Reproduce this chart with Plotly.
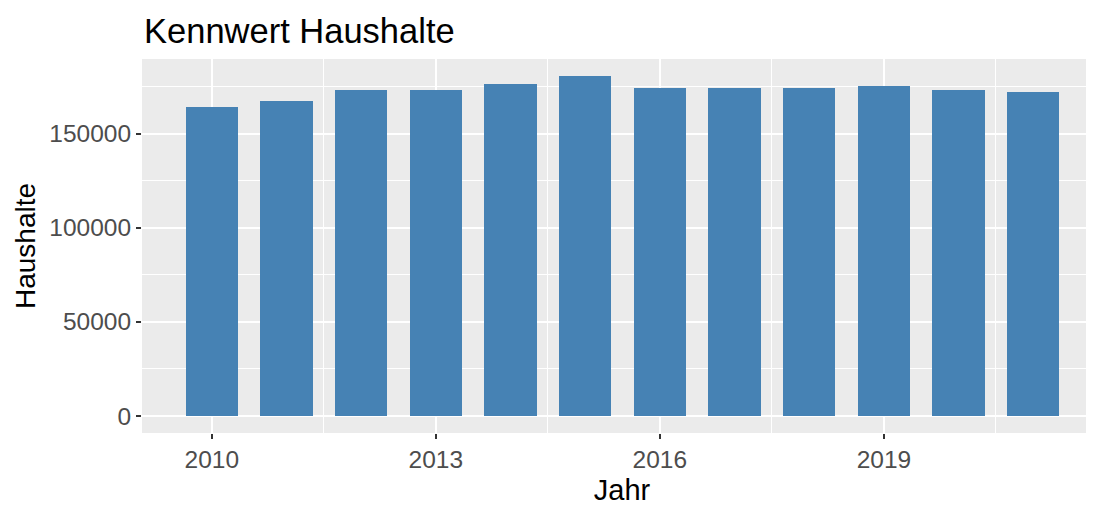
import plotly.graph_objects as go

years = [2010, 2011, 2012, 2013, 2014, 2015, 2016, 2017, 2018, 2019, 2020, 2021]
haushalte = [164000, 167200, 173400, 173400, 176600, 180700, 174300, 174300, 174300, 175600, 173400, 172400]
x_ticks = [2010, 2013, 2016, 2019]
y_ticks = [0, 50000, 100000, 150000]

FONT = "Liberation Sans, Arial, sans-serif"

# the page body adds an 8px offset; the panel runs past the right edge of the window,
# as in the (cropped) reference
W, H = 1094, 498

fig = go.Figure(go.Bar(x=years, y=haushalte, width=0.7,
                       marker=dict(color="#4682B4", line=dict(width=0))))

fig.update_layout(
    width=W, height=H,
    margin=dict(l=134, r=0, t=51, b=73, autoexpand=False),
    paper_bgcolor="white", plot_bgcolor="#EBEBEB",
    font=dict(family=FONT),
    title=dict(text="Kennwert Haushalte", x=136/W, xref="container", xanchor="left",
               y=1 - 23/H, yref="container", yanchor="middle",
               font=dict(size=34.5, color="black", family=FONT)),
    showlegend=False,
    bargap=0,
)
fig.update_xaxes(
    automargin=False,
    range=[2009.066, 2021.92], tickvals=x_ticks, ticktext=[str(v) for v in x_ticks],
    showgrid=True, gridcolor="white", gridwidth=2, zeroline=False,
    ticks="outside", ticklen=5, tickwidth=1.5, tickcolor="#333333",
    tickfont=dict(size=24.5, color="#4D4D4D", family=FONT),
    minor=dict(tick0=2011.5, dtick=3, showgrid=True, gridcolor="white", gridwidth=1),
    title=dict(text="Jahr", font=dict(size=29, color="black", family=FONT), standoff=10),
    showline=False,
)
fig.update_yaxes(
    automargin=False,
    range=[-9035, 189735], tickvals=y_ticks, ticktext=[str(v) for v in y_ticks],
    showgrid=True, gridcolor="white", gridwidth=2, zeroline=False,
    ticks="outside", ticklen=5, tickwidth=1.5, tickcolor="#333333",
    tickfont=dict(size=24.5, color="#4D4D4D", family=FONT),
    minor=dict(tick0=25000, dtick=50000, showgrid=True, gridcolor="white", gridwidth=1),
    title=dict(text="Haushalte", font=dict(size=28, color="black", family=FONT), standoff=5),
    showline=False,
)

fig.write_html("out.html")
